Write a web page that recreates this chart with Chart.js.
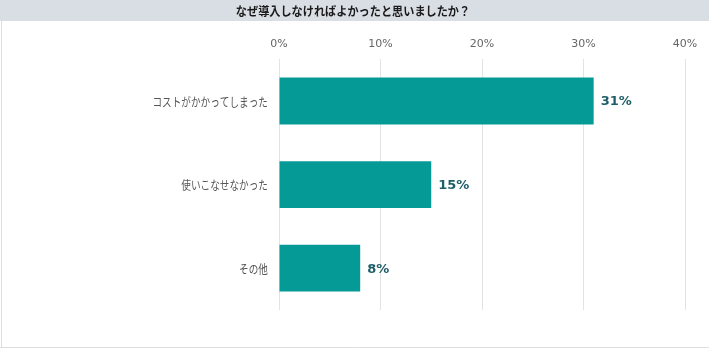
<!DOCTYPE html>
<html><head><meta charset="utf-8">
<script src="https://cdn.jsdelivr.net/npm/chart.js@4/dist/chart.umd.min.js"></script>
<style>html,body{margin:0;padding:0;background:#fff;}#wrap{width:709px;height:356px;position:relative;}</style>
</head><body><div id="wrap"><canvas id="c" width="709" height="356"></canvas></div>
<script>
const chartTitle = 'なぜ導入しなければよかったと思いましたか？';
const categories = ['コストがかかってしまった', '使いこなせなかった', 'その他'];
const values = [31, 15, 8];
const tickValues = [0, 10, 20, 30, 40];

const jp = '"Noto Sans CJK JP", "Noto Sans", sans-serif';
const num = '"DejaVu Sans", Verdana, sans-serif';

function squeezedText(ctx, text, x, y, sx, align) {
  ctx.save();
  ctx.translate(x, y);
  ctx.scale(sx, 1);
  ctx.textAlign = align;
  ctx.fillText(text, 0, 0);
  ctx.restore();
}

const decor = {
  id: 'decor',
  beforeDraw(chart) {
    const ctx = chart.ctx;
    ctx.save();
    ctx.fillStyle = '#fff';
    ctx.fillRect(0, 0, chart.width, chart.height);
    ctx.fillStyle = '#d9dee5';
    ctx.fillRect(0, 0, chart.width, 21);
    ctx.strokeStyle = '#dedede';
    ctx.lineWidth = 1;
    ctx.beginPath();
    ctx.moveTo(1.5, 21); ctx.lineTo(1.5, 347.5);
    ctx.moveTo(0, 347.5); ctx.lineTo(chart.width, 347.5);
    ctx.stroke();
    // title
    ctx.fillStyle = '#1a1a1a';
    ctx.font = 'bold 12px ' + jp;
    ctx.textBaseline = 'middle';
    squeezedText(ctx, chartTitle, 353, 11, 0.93, 'center');
    // category labels
    const ys = chart.scales.y;
    ctx.fillStyle = '#555';
    ctx.font = '12.5px ' + jp;
    categories.forEach((c, i) => {
      squeezedText(ctx, c, 268, ys.getPixelForValue(i) + 1, 0.77, 'right');
    });
    ctx.restore();
  },
  afterDatasetsDraw(chart) {
    const ctx = chart.ctx;
    const meta = chart.getDatasetMeta(0);
    ctx.save();
    ctx.fillStyle = '#1e5e68';
    ctx.font = 'bold 13px ' + num;
    ctx.textAlign = 'left';
    ctx.textBaseline = 'middle';
    meta.data.forEach((bar, i) => {
      ctx.fillText(values[i] + '%', bar.x + 7, bar.y + 1);
    });
    ctx.restore();
  }
};

new Chart(document.getElementById('c'), {
  type: 'bar',
  data: {
    labels: categories,
    datasets: [{
      data: values,
      backgroundColor: '#069a97',
      borderWidth: 0,
      barPercentage: 0.56,
      categoryPercentage: 1
    }]
  },
  options: {
    indexAxis: 'y',
    responsive: false,
    animation: false,
    layout: { padding: { left: 0, right: 24, top: 30, bottom: 46 } },
    plugins: {
      legend: { display: false },
      tooltip: { enabled: false },
      title: { display: false }
    },
    scales: {
      x: {
        position: 'top',
        min: 0, max: 40,
        afterBuildTicks(scale) { scale.ticks = tickValues.map(v => ({ value: v })); },
        ticks: {
          color: '#666',
          font: { family: num, size: 11 },
          padding: 8,
          callback: v => v + '%'
        },
        grid: { color: '#e3e3e3', drawTicks: false, lineWidth: 1 },
        border: { display: false }
      },
      y: {
        afterFit(scale) { scale.width = 279; },
        ticks: { display: false },
        grid: { display: false },
        border: { display: false }
      }
    }
  },
  plugins: [decor]
});
</script></body></html>
